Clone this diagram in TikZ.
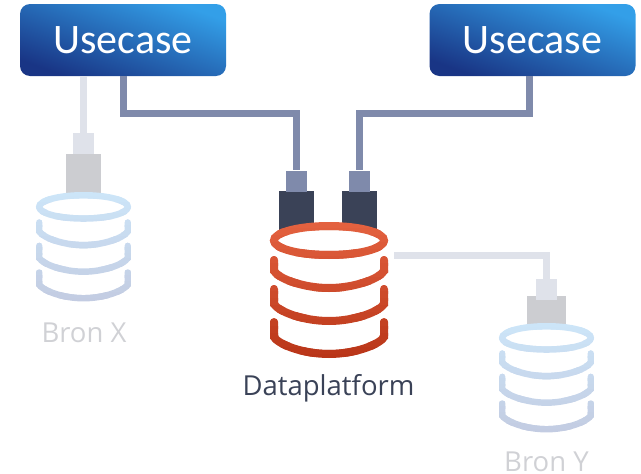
\documentclass[tikz,border=0pt]{standalone}
\usepackage{fontspec}
\setmainfont{Carlito}
\newfontfamily\labelfont{Open Sans}
\definecolor{gradlight}{HTML}{339FE8}
\definecolor{graddark}{HTML}{193585}
\definecolor{slate}{HTML}{7F8AAB}
\definecolor{ink}{HTML}{3A4257}
\definecolor{palewire}{HTML}{DFE2EA}
\definecolor{palebody}{HTML}{CCCDD1}
\definecolor{paletext}{HTML}{D0D1D5}
\definecolor{redtop}{HTML}{E3613F}
\definecolor{redbot}{HTML}{B93518}
\definecolor{icetop}{HTML}{CCE5F8}
\definecolor{icebot}{HTML}{C3CCE2}
\tikzset{
  usecase/.style={rectangle,rounded corners=10pt,minimum width=206pt,minimum height=72pt,inner sep=0pt,
    top color=gradlight,bottom color=graddark,shading angle=-20,text=white,font=\fontsize{42}{42}\selectfont},
  plugbox/.style={rectangle,inner sep=0pt,minimum width=21pt,minimum height=21pt},
  bodybox/.style={rectangle,inner sep=0pt,minimum width=35pt},
  wire/.style={line width=7pt,line join=miter,line cap=butt},
  caption/.style={inner sep=0pt,anchor=base,font=\labelfont\fontsize{27.5}{27.5}\selectfont}
}
\newcommand\dbcyl[5]{%
  \begin{scope}[shift={(#1,#2)},scale=#3]
    \fill[white] (0,18.5) ellipse [x radius=55,y radius=14.5];
    \pgfmathsetmacro\lw{8*#3}
    \foreach \i in {0,...,19}{
      \pgfmathsetmacro\m{100*(1-\i/19)}
      \begin{scope}
        \clip (-64,{\i*7-1}) rectangle (64,{\i*7+8});
        \draw[line width=\lw pt,color=#4!\m!#5,line cap=round]
          (0,18.5) ellipse [x radius=55,y radius=14.5]
          (-55,38) -- (-55,49) .. controls (-50,57) and (-25,66) .. (0,66) .. controls (25,66) and (50,57) .. (55,49) -- (55,38)
          (-55,67) -- (-55,82) .. controls (-50,90) and (-25,99) .. (0,99) .. controls (25,99) and (50,90) .. (55,82) -- (55,67)
          (-55,100) -- (-55,115) .. controls (-50,123) and (-25,132) .. (0,132) .. controls (25,132) and (50,123) .. (55,115) -- (55,100);
      \end{scope}
    }
  \end{scope}}
\begin{document}
\begin{tikzpicture}[x=1pt,y=-1pt]
\useasboundingbox (0,0) rectangle (641,474);
% connectors' free points
\coordinate (jogA) at (296.5,113.5);
\coordinate (jogB) at (359.5,113.5);
\coordinate (dpPort) at (394,255);

\node[usecase] (u1) at (123,40) {\raisebox{-2pt}{Usecase}};
\node[usecase] (u2) at (532.5,40) {\raisebox{-2pt}{Usecase}};
\coordinate (u1a) at (83.5,76);
\coordinate (u1b) at (123.5,76);
\coordinate (u2b) at (529.5,76);

% plug bodies
\node[bodybox,fill=palebody,minimum height=42pt] (bodyX) at (83.5,175) {};
\node[bodybox,fill=ink,minimum height=44pt] (bodyA) at (296.5,213) {};
\node[bodybox,fill=ink,minimum height=44pt] (bodyB) at (359.5,213) {};
\node[bodybox,fill=palebody,minimum width=39pt,minimum height=38pt] (bodyY) at (546.5,315) {};
% plugs
\node[plugbox,fill=palewire] (plugX) at (83.5,143.5) {};
\node[plugbox,fill=slate] (plugA) at (296.5,181) {};
\node[plugbox,fill=slate] (plugB) at (359.5,181) {};
\node[plugbox,fill=palewire] (plugY) at (546.5,289.5) {};
% wires
\draw[wire,palewire] (u1a) -- (plugX.north);
\draw[wire,slate] (u1b) |- (jogA) -- (plugA.north);
\draw[wire,slate] (u2b) |- (jogB) -- (plugB.north);
\draw[wire,palewire] (dpPort) -| (plugY.north);
% cylinders
\dbcyl{329}{222}{1}{redtop}{redbot}
\dbcyl{83.5}{192}{0.805}{icetop}{icebot}
\dbcyl{546.5}{323}{0.805}{icetop}{icebot}
% labels
\node[caption,text=paletext] (bronX) at (84,342) {Bron X};
\node[caption,text=ink] (dp) at (328.5,395) {Dataplatform};
\node[caption,text=paletext] (bronY) at (546.5,471.5) {Bron Y};
\end{tikzpicture}
\end{document}
